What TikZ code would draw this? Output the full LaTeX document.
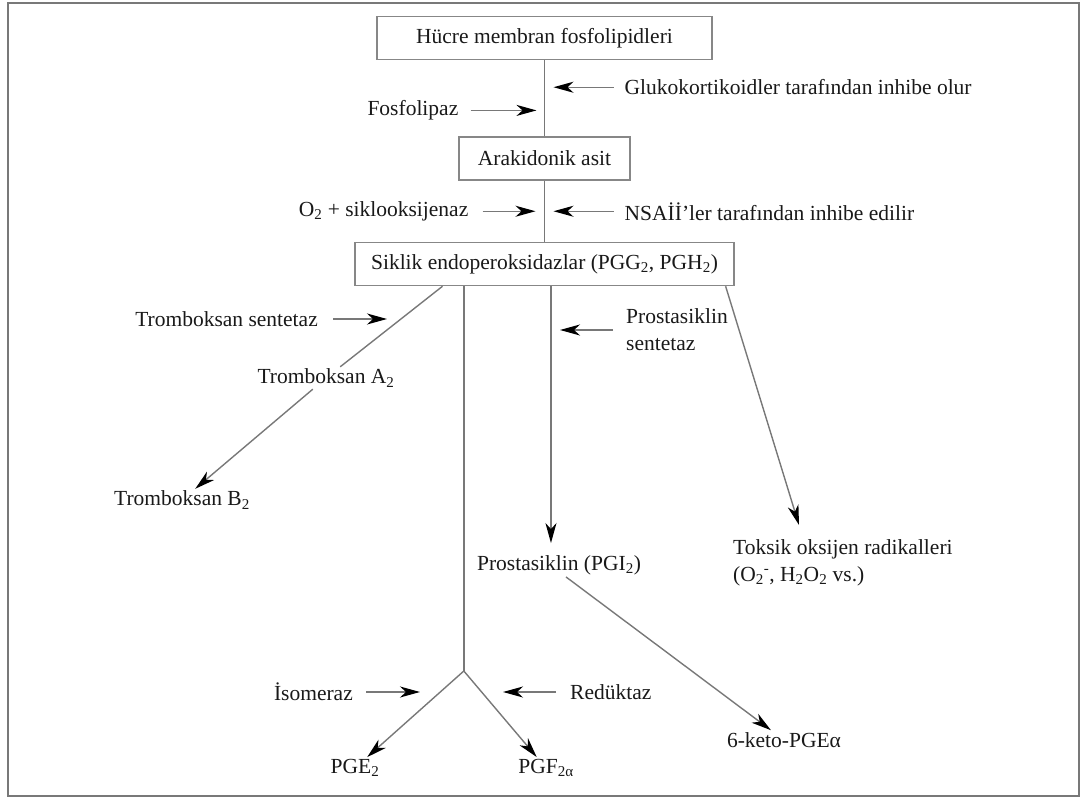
\documentclass[tikz,border=0pt]{standalone}
\usepackage{fontspec}
\setmainfont{Liberation Serif}
\usepackage{tikz}
\usetikzlibrary{
    arrows.meta,
    positioning,
    calc
}
\definecolor{inkGray}{RGB}{25,25,25}
\definecolor{lineGray}{RGB}{120,120,120}
\definecolor{boxGray}{RGB}{135,135,135}
\tikzset{
  block/.style = {draw=boxGray, line width=1.5pt, minimum height=43pt,
                  inner sep=0pt, text=inkGray},
  lbl/.style   = {inner sep=2pt, text=inkGray, align=left},
  link/.style  = {lineGray, line width=1.4pt},
  arr/.style   = {-{Stealth[length=20pt, width=11pt, inset=6pt, color=black]},
                  lineGray, line width=1.4pt},
  frame/.style = {draw=lineGray, line width=2.2pt}
}

\begin{document}
\begin{tikzpicture}[x=1pt, y=-1pt,
        font=\fontsize{21.5pt}{27pt}\selectfont]
        \useasboundingbox (0,0) rectangle (1082,799);
        \draw[frame] (8,3) rectangle (1079,796);

        % ── MAIN CHAIN ──
        \node[block, minimum width=335pt] (hucre) at (544.5,38)
              {Hücre membran fosfolipidleri};
        \node[block, minimum width=171pt, below=76pt of hucre] (arak)
              {Arakidonik asit};
        \node[block, minimum width=379pt, below=61pt of arak] (siklik)
              {Siklik endoperoksidazlar (PGG\textsubscript{2}, PGH\textsubscript{2})};

        \draw[link] (hucre) -- (arak);
        \draw[link] (arak)  -- (siklik);

        % ── ENZYMES / INHIBITORS ──
        \coordinate (g1) at ($(hucre.south)!0.355!(arak.north)$);
        \coordinate (g2) at ($(hucre.south)!0.66!(arak.north)$);
        \coordinate (c1) at ($(arak.south)!0.5!(siklik.north)$);

        \node[lbl, anchor=west] (gluko) at ([xshift=78pt]g1)
              {Glukokortikoidler tarafından inhibe olur};
        \node[lbl, anchor=east] (fosfo) at ([xshift=-84pt]g2) {Fosfolipaz};
        \node[lbl, anchor=east] (okso)  at ([xshift=-74pt]c1)
              {O\textsubscript{2} + siklooksijenaz};
        \node[lbl, anchor=west] (nsai)  at ([xshift=78pt]c1)
              {NSAİİ’ler tarafından inhibe edilir};

        \draw[arr] ([xshift=-9pt]gluko.west) -- ([xshift=9pt]g1);
        \draw[arr] ([xshift=10pt]fosfo.east) -- ([xshift=-8pt]g2);
        \draw[arr] ([xshift=12pt]okso.east)  -- ([xshift=-9pt]c1);
        \draw[arr] ([xshift=-9pt]nsai.west)  -- ([xshift=9pt]c1);

        % ── TROMBOKSAN ──
        \coordinate (tx) at ($(siklik.south west)!0.232!(siklik.south east)$);
        \node[lbl] (tA2) at (326,378) {Tromboksan A\textsubscript{2}};
        \node[lbl] (tB2) at (182,500) {Tromboksan B\textsubscript{2}};
        \node[lbl, anchor=east] (tsent) at (320,319) {Tromboksan sentetaz};

        \draw[link] (tx)  -- (tA2);
        \draw[arr]  (tA2) -- (tB2);
        \draw[arr]  ([xshift=13pt]tsent.east) -- ++(54pt,0);

        % ── PROSTASIKLIN ──
        \coordinate (px) at ($(siklik.south west)!0.517!(siklik.south east)$);
        \node[lbl] (pgi) at (559,565) {Prostasiklin (PGI\textsubscript{2})};
        \node[lbl, anchor=west] (psent) at (624,330) {Prostasiklin\\sentetaz};
        \node[lbl] (keto) at (784,740) {6-keto-PGEα};

        \draw[arr] (px) -- ([yshift=10pt]px |- pgi.north);
        \draw[arr] ([xshift=-11pt]psent.west) -- ++(-53pt,0);
        \draw[arr] ([xshift=7pt]pgi.south) -- (keto);

        % ── TOKSIK RADIKALLER ──
        \coordinate (kx) at ($(siklik.south west)!0.976!(siklik.south east)$);
        \node[lbl, anchor=north west] (toksik) at (731,537)
              {Toksik oksijen radikalleri\\(O\textsubscript{2}\textsuperscript{-}, H\textsubscript{2}O\textsubscript{2} vs.)};
        \draw[arr] (kx) -- ([xshift=68pt,yshift=12pt]toksik.north west);

        % ── PGE / PGF ──
        \coordinate (mx) at ($(siklik.south west)!0.288!(siklik.south east)$);
        \coordinate (br) at (mx |- 0,671);
        \node[lbl] (pge) at (355,768) {PGE\textsubscript{2}};
        \node[lbl] (pgf) at (546,768) {PGF\textsubscript{2α}};
        \node[lbl, anchor=east] (isom) at (355,692) {İsomeraz};
        \node[lbl, anchor=west] (redu) at (568,692) {Redüktaz};

        \draw[link] (mx) -- (br);
        \draw[arr]  (br) -- (pge);
        \draw[arr]  (br) -- (pgf);
        \draw[arr]  ([xshift=11pt]isom.east) -- ++(54pt,0);
        \draw[arr]  ([xshift=-12pt]redu.west) -- ++(-53pt,0);
\end{tikzpicture}
\end{document}
